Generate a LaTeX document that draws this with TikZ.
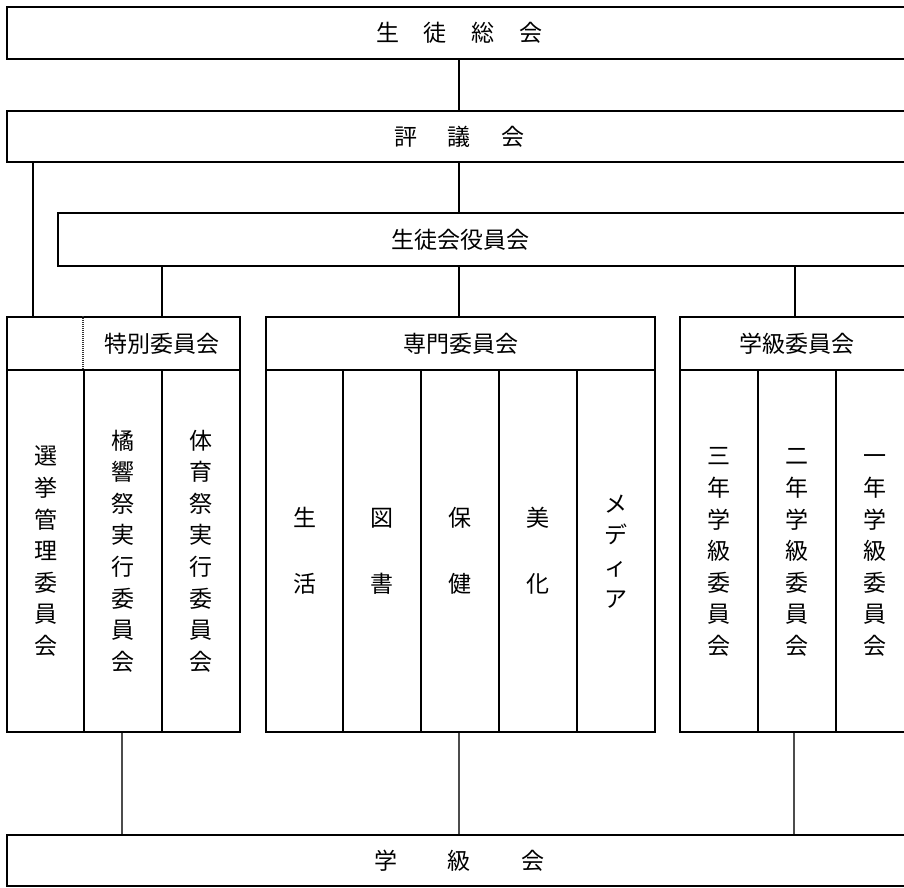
\documentclass[tikz,border=0pt]{standalone}
\usepackage{fontspec}
\newfontfamily\jp{Noto Sans CJK JP}
\newcommand{\jpf}{\jp\fontsize{23pt}{31.6pt}\selectfont}
\newcommand{\cs}{\vphantom{会}}
\begin{document}
\begin{tikzpicture}[x=1pt,y=-1pt,
  cell/.style={draw,line width=1.6pt,inner sep=0pt,align=center,font=\jpf},
  lbl/.style={inner sep=0pt,align=center,font=\jpf},
  conn/.style={line width=1.2pt,black},
  connb/.style={line width=1.4pt,black!70},
  hatch/.style={line width=1.5pt,black!80,dash pattern=on 1pt off 1pt}]
\useasboundingbox (0,0) rectangle (904,887);
\clip (0,0) rectangle (904,887);
% top boxes
\node[cell,minimum width=905pt,minimum height=52pt] (soukai) at (459.5,33) {\cs 生\kern25pt 徒\kern25pt 総\kern25pt 会};
\node[cell,minimum width=905pt,minimum height=51pt] (hyogi) at (459.5,136.5) {\cs 評\kern31pt 議\kern31pt 会};
\node[cell,minimum width=854pt,minimum height=53pt] (yakuin) at (485,239.5) {};
\node[lbl] (yakuinlbl) at (460,239.5) {\cs 生徒会役員会};
% special committee
\node[cell,minimum width=233pt,minimum height=53pt] (tokuhead) at (123.5,343.5) {};
\node[lbl] (tokulbl) at (162,343.5) {\cs 特別委員会};
\draw[hatch] ([xshift=77pt]tokuhead.north west) -- ([xshift=77pt]tokuhead.south west);
\node[cell,minimum width=77pt,minimum height=362pt] (t1) at (45.5,551) {\cs 選\\挙\\管\\理\\委\\員\\会\cs};
\node[cell,minimum width=78pt,minimum height=362pt] (t2) at (123,551) {\cs 橘\\響\\祭\\実\\行\\委\\員\\会\cs};
\node[cell,minimum width=78pt,minimum height=362pt] (t3) at (201,551) {\cs 体\\育\\祭\\実\\行\\委\\員\\会\cs};
% specialist committee
\node[cell,minimum width=389pt,minimum height=53pt] (senhead) at (460.5,343.5) {\cs 専門委員会};
\node[cell,minimum width=77pt,minimum height=362pt] (s1) at (304.5,551) {\cs 生\\[34.4pt]活\cs};
\node[cell,minimum width=78pt,minimum height=362pt] (s2) at (382,551) {\cs 図\\[34.4pt]書\cs};
\node[cell,minimum width=78pt,minimum height=362pt] (s3) at (460,551) {\cs 保\\[34.4pt]健\cs};
\node[cell,minimum width=78pt,minimum height=362pt] (s4) at (538,551) {\cs 美\\[34.4pt]化\cs};
\node[cell,minimum width=78pt,minimum height=362pt] (s5) at (616,551) {\cs メ\\デ\\ィ\\ア\cs};
% class committee
\node[cell,minimum width=234pt,minimum height=53pt] (gakhead) at (797,343.5) {\cs 学級委員会};
\node[cell,minimum width=78pt,minimum height=362pt] (g1) at (719,551) {\cs 三\\年\\学\\級\\委\\員\\会\cs};
\node[cell,minimum width=78pt,minimum height=362pt] (g2) at (797,551) {\cs 二\\年\\学\\級\\委\\員\\会\cs};
\node[cell,minimum width=78pt,minimum height=362pt] (g3) at (875,551) {\cs 一\\年\\学\\級\\委\\員\\会\cs};
% bottom box
\node[cell,minimum width=905pt,minimum height=51pt] (gakkyukai) at (459.5,860.5) {\cs 学\kern51pt 級\kern51pt 会};
% connectors
\coordinate (lx) at (33,0);
\coordinate (mx) at (459,0);
\coordinate (rx) at (795,0);
\coordinate (bl) at (122,0);
\coordinate (br) at (794,0);
\draw[conn] (soukai.south -| mx) -- (hyogi.north -| mx);
\draw[conn] (hyogi.south -| mx) -- (yakuin.north -| mx);
\draw[conn] (hyogi.south -| lx) -- (tokuhead.north -| lx);
\draw[conn] (yakuin.south -| tokulbl) -- (tokuhead.north -| tokulbl);
\draw[conn] (yakuin.south -| mx) -- (senhead.north -| mx);
\draw[conn] (yakuin.south -| rx) -- (gakhead.north -| rx);
\draw[connb] (t2.south -| bl) -- (gakkyukai.north -| bl);
\draw[connb] (s3.south -| mx) -- (gakkyukai.north -| mx);
\draw[connb] (g2.south -| br) -- (gakkyukai.north -| br);
\end{tikzpicture}
\end{document}
